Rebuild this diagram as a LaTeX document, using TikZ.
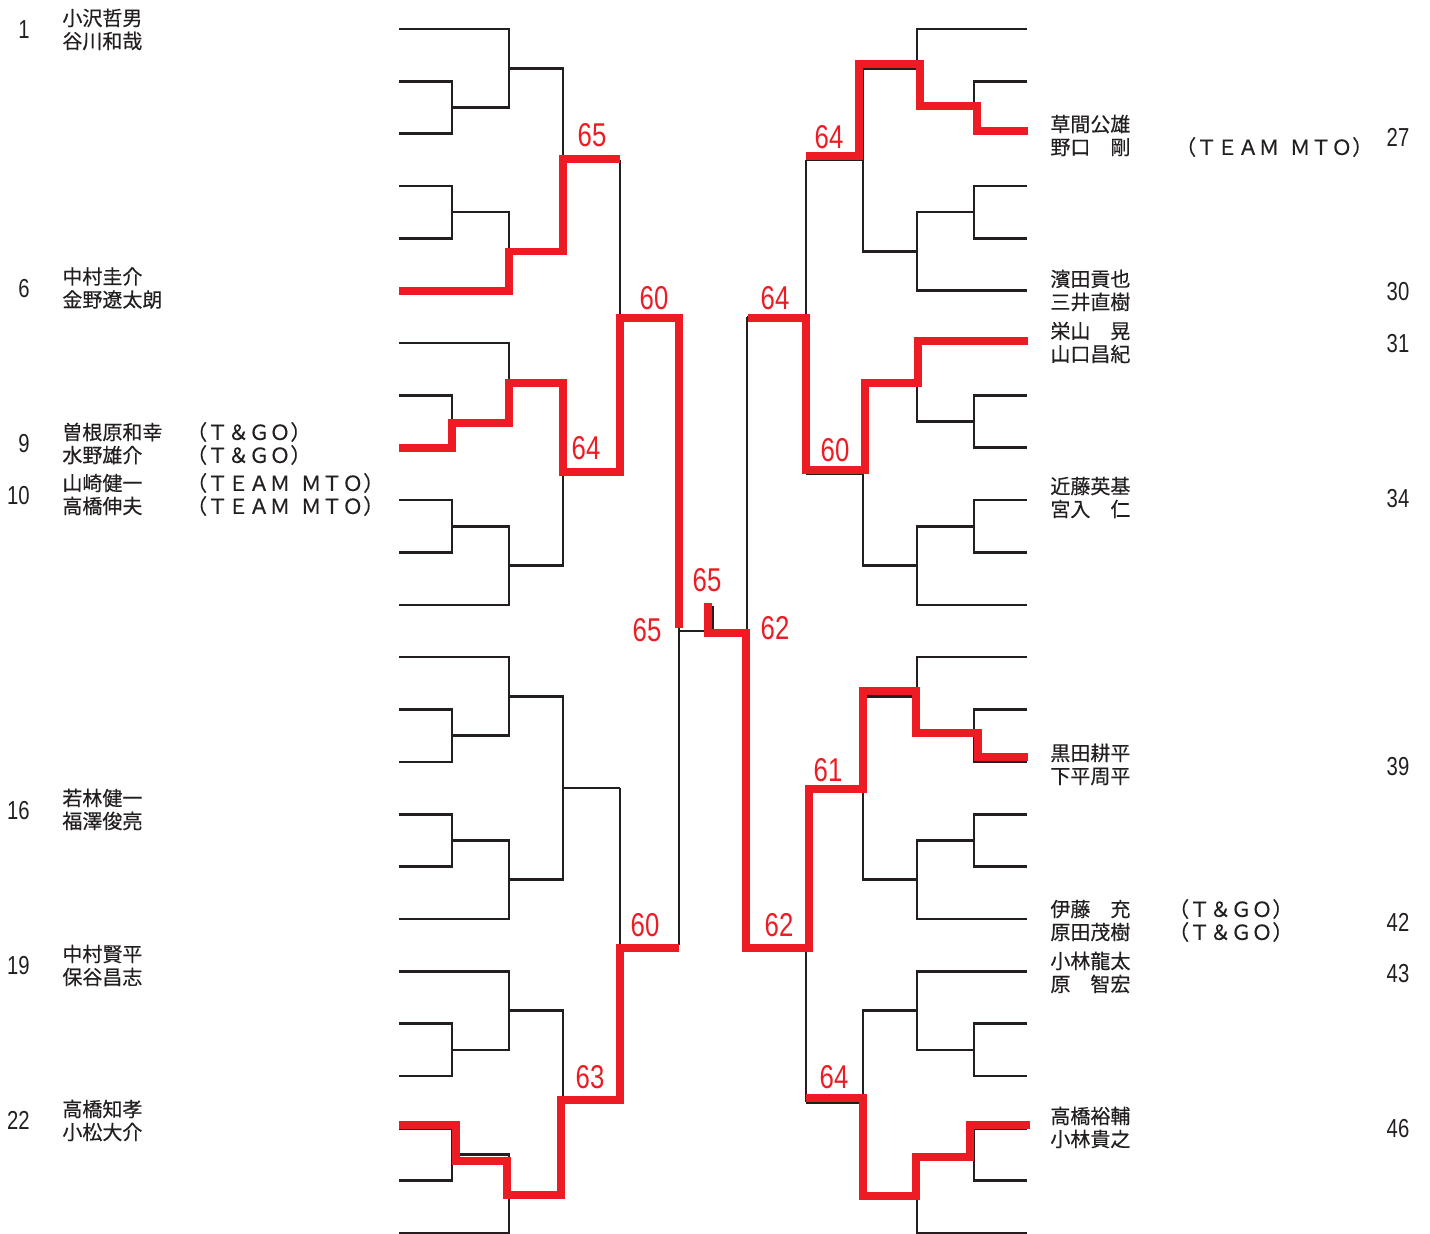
\documentclass[tikz,border=0pt]{standalone}
\usepackage{fontspec}
\setmainfont[FakeBold=0.4]{Noto Sans CJK JP}
\newfontfamily\numfont[FakeStretch=0.78]{Liberation Sans}
\usepackage{tikz}
\definecolor{resultred}{RGB}{237,28,36}
\definecolor{lineblack}{RGB}{35,31,32}

\begin{document}
\begin{tikzpicture}[x=0.5pt, y=-0.5pt, line join=miter,
  bracket/.style={lineblack, line width=1.3pt},
  winner/.style={resultred, line width=3.6pt},
  score/.style={resultred, inner sep=0pt, font=\numfont\fontsize{16.5}{16.5}\selectfont},
  seed/.style={lineblack, inner sep=0pt, font=\numfont\fontsize{13}{13}\selectfont},
  player/.style={lineblack, inner sep=0pt, anchor=west, align=left, font=\fontsize{10}{11.5}\selectfont},
  team/.style={player, font=\fontsize{10.4}{11.5}\selectfont}]
  \useasboundingbox (0,0) rectangle (1430,1234);

  % left half, then the mirrored right half
  \foreach \sx/\dx in {1/0,-1/1426} {
    \begin{scope}[shift={(\dx,0)}, xscale=\sx]
      \foreach \b in {0,...,3} {
        \begin{scope}[shift={(0,29+314.1*\b)}]
          \draw[bracket] (399,0) -| (509,78.5) -- (452,78.5);
          \draw[bracket] (399,52.35) -| (452,104.7) -- (399,104.7);
          \draw[bracket] (399,157.05) -| (452,209.4) -- (399,209.4);
          \draw[bracket] (452,183.2) -| (509,261.75) -- (399,261.75);
          \draw[bracket] (509,39.3) -| (563,222.5) -- (509,222.5);
          \draw[bracket] (563,130.9) -- (620,130.9);
        \end{scope}
      }
      \draw[bracket] (620,159.9) -- (620,474) (620,317) -- (679,317);
      \draw[bracket] (620,788.1) -- (620,1102.2) (620,945.1) -- (679,945.1);
      \draw[bracket] (679,317) -- (679,945.1) (679,631) -- (713,631);
    \end{scope}
  }
  \draw[bracket] (713,631) -- (713,606);

  % winners
  \draw[winner] (399,291) -- (509,291) -- (509,251.5) -- (563,251.5) -- (563,159) -- (620,159);
  \draw[winner] (399,448) -- (452,448) -- (452,423) -- (509,423) -- (509,383) -- (563,383)
    -- (563,472) -- (620,472) -- (620,318) -- (679,318) -- (679,628);
  \draw[winner] (399,1125) -- (456,1125) -- (456,1161) -- (507,1161) -- (507,1195) -- (561,1195)
    -- (561,1100) -- (620,1100) -- (620,948) -- (679,948);
  \draw[winner] (1028,131) -- (977,131) -- (977,106) -- (920,106) -- (920,64) -- (859,64)
    -- (859,156) -- (806,156);
  \draw[winner] (1028,341) -- (918,341) -- (918,383) -- (865,383) -- (865,470) -- (806,470)
    -- (806,318) -- (748,318);
  \draw[winner] (1028,757) -- (978,757) -- (978,733) -- (916,733) -- (916,691) -- (863,691)
    -- (863,789) -- (809,789) -- (809,948) -- (746,948) -- (746,633) -- (708,633) -- (708,603);
  \draw[winner] (1030,1125) -- (970,1125) -- (970,1157) -- (916,1157) -- (916,1196) -- (863,1196)
    -- (863,1098) -- (806,1098);

  \node[score] (r1) at (592,135) {65};
  \node[score] (r2) at (654,298) {60};
  \node[score] (r3) at (586,448) {64};
  \node[score] (r4) at (647,630) {65};
  \node[score] (r5) at (645,925) {60};
  \node[score] (r6) at (590,1077) {63};
  \node[score] (r7) at (707,580) {65};
  \node[score] (r8) at (775,628) {62};
  \node[score] (r9) at (829,137) {64};
  \node[score] (r10) at (775,298) {64};
  \node[score] (r11) at (835,450) {60};
  \node[score] (r12) at (828,770) {61};
  \node[score] (r13) at (779,925) {62};
  \node[score] (r14) at (834,1077) {64};

  % left entries
  \node[seed, anchor=east] (s1) at (30,30) {1};
  \node[seed, anchor=east] (s6) at (30,289) {6};
  \node[seed, anchor=east] (s9) at (30,444) {9};
  \node[seed, anchor=east] (s10) at (30,496) {10};
  \node[seed, anchor=east] (s16) at (30,811) {16};
  \node[seed, anchor=east] (s19) at (30,966) {19};
  \node[seed, anchor=east] (s22) at (30,1120) {22};
  \node[player] (p1) at (62,29.5) {小沢哲男\\谷川和哉};
  \node[player] (p6) at (62,288) {中村圭介\\金野遼太朗};
  \node[player] (p9) at (62,443.5) {曽根原和幸\\水野雄介};
  \node[player] (p10) at (62,494.5) {山崎健一\\高橋伸夫};
  \node[player] (p16) at (62,809.5) {若林健一\\福澤俊亮};
  \node[player] (p19) at (62,965.5) {中村賢平\\保谷昌志};
  \node[player] (p22) at (62,1120.5) {高橋知孝\\小松大介};
  \node[team] (t9) at (186,443.5) {（Ｔ＆ＧＯ）\\（Ｔ＆ＧＯ）};
  \node[team] (t10) at (186,494.5) {（ＴＥＡＭ\hspace{0.5em}ＭＴＯ）\\（ＴＥＡＭ\hspace{0.5em}ＭＴＯ）};

  % right entries
  \node[seed] (s27) at (1398,137) {27};
  \node[seed] (s30) at (1398,292) {30};
  \node[seed] (s31) at (1398,344) {31};
  \node[seed] (s34) at (1398,499) {34};
  \node[seed] (s39) at (1398,767) {39};
  \node[seed] (s42) at (1398,922) {42};
  \node[seed] (s43) at (1398,974) {43};
  \node[seed] (s46) at (1398,1129) {46};
  \node[player] (p27) at (1050,135.5) {草間公雄\\野口　剛};
  \node[player] (p30) at (1050,290.5) {濱田貢也\\三井直樹};
  \node[player] (p31) at (1050,342.5) {栄山　晃\\山口昌紀};
  \node[player] (p34) at (1050,497.5) {近藤英基\\宮入　仁};
  \node[player] (p39) at (1050,764.5) {黒田耕平\\下平周平};
  \node[player] (p42) at (1050,920.5) {伊藤　充\\原田茂樹};
  \node[player] (p43) at (1050,972.5) {小林龍太\\原　智宏};
  \node[player] (p46) at (1050,1127.5) {高橋裕輔\\小林貴之};
  \node[team] (t27) at (1175,147) {（ＴＥＡＭ\hspace{0.5em}ＭＴＯ）};
  \node[team] (t42) at (1168,920.5) {（Ｔ＆ＧＯ）\\（Ｔ＆ＧＯ）};
\end{tikzpicture}
\end{document}
